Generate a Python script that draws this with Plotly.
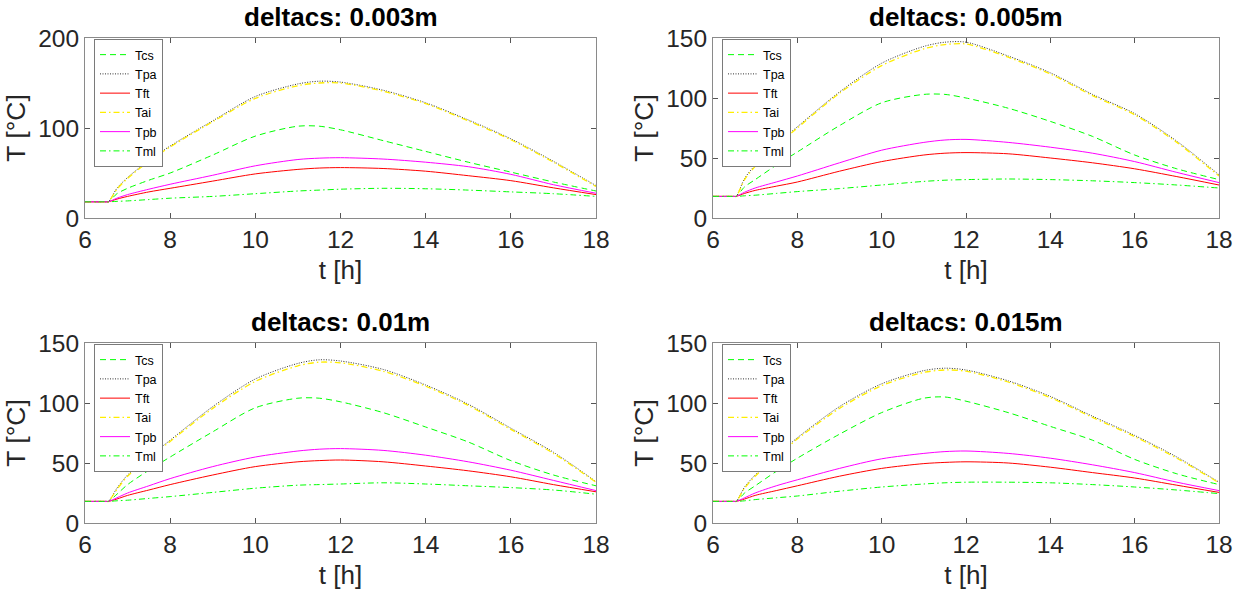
import plotly.graph_objects as go

# ---------------- data ----------------
hours = [6, 6.5, 6.55, 6.75, 7, 7.5, 8, 9, 10, 11, 11.5, 12, 13, 14, 15, 16, 17, 18]

panel_titles = ["deltacs: 0.003m", "deltacs: 0.005m", "deltacs: 0.01m", "deltacs: 0.015m"]
series_names = ["Tcs", "Tpa", "Tft", "Tai", "Tpb", "Tml"]

# deltacs = 0.003 m
tcs_1 = [18, 18, 18, 27, 33, 42, 50, 70, 91, 102, 102, 98, 86, 74, 62, 51, 40, 30]
tpa_1 = [18, 18, 18, 33, 45, 64, 80, 108, 135, 149, 152, 151, 142, 128, 109, 88, 63, 36]
tft_1 = [18, 18, 18, 21, 24, 29, 33, 41, 49, 54, 55.5, 56, 55, 52, 47, 41.5, 33.5, 26]
tai_1 = [18, 18, 18, 32, 44, 63, 79, 107, 133, 147, 150, 150, 141, 127, 108, 87, 62, 35]
tpb_1 = [18, 18, 18, 22, 26, 32, 37.5, 47.5, 58, 65, 66.5, 67, 65.5, 62, 57, 48.5, 37, 27.5]
tml_1 = [18, 18, 18, 18.5, 19, 20.5, 22, 24, 27, 30, 31, 32, 33, 32.5, 31, 29, 27, 24]

# deltacs = 0.005 m
tcs_2 = [18, 18, 18, 26, 32, 44, 55, 77, 96, 103, 103, 100, 91.5, 80.5, 68, 52.5, 41, 32]
tpa_2 = [18, 18, 18, 33, 44, 61, 76, 105, 129, 143, 146.5, 146.5, 135, 121, 103, 87, 64, 36]
tft_2 = [18, 18, 18, 20.5, 23, 26.5, 30, 39, 47, 52.5, 54, 54.5, 53.5, 50, 46, 41, 34.5, 27.5]
tai_2 = [18, 18, 18, 32, 43, 60, 75, 104, 127, 141, 144.5, 145, 134, 120, 102, 86, 63, 35]
tpb_2 = [18, 18, 18, 21.5, 25, 30, 35, 46, 56.5, 63, 65, 65.5, 63, 59, 54, 47, 38, 29.5]
tml_2 = [18, 18, 18, 18.5, 19, 20.5, 22, 24.5, 27.5, 30.5, 31.5, 32, 32.5, 32, 31, 29.5, 27.5, 25]

# deltacs = 0.01 m
tcs_3 = [18, 18, 18, 24, 32, 44, 55, 76, 96, 104, 104, 101, 92, 80, 67.5, 52, 40, 31]
tpa_3 = [18, 18, 18, 29, 40, 55, 69, 97, 120, 133, 136, 135, 128, 115, 99, 79, 59, 34.5]
tft_3 = [18, 18, 18, 20, 23, 27.5, 32, 40, 47, 51, 52, 52.5, 51, 47.5, 43.5, 38.5, 32, 26]
tai_3 = [18, 18, 18, 28, 39, 54, 68, 95.5, 118, 131, 134, 133.5, 126.5, 114, 98, 78, 58, 34]
tpb_3 = [18, 18, 18, 21, 25, 31, 37, 47, 55, 60, 61.5, 62, 60.5, 56.5, 51, 44, 35.5, 27]
tml_3 = [18, 18, 18, 18.5, 19, 20.5, 22, 25.5, 29, 31.5, 32, 32.5, 33.5, 32.5, 31, 29.5, 27.5, 24]

# deltacs = 0.015 m
tcs_4 = [18, 18, 18, 25, 31, 43, 54, 74, 92, 104, 105, 101.5, 92, 80.5, 69, 53, 41, 32]
tpa_4 = [18, 18, 18, 30, 40, 56, 71, 97, 116, 127, 129, 127.5, 118.5, 105.5, 89, 73, 55, 34]
tft_4 = [18, 18, 18, 20, 23, 27, 31, 39, 45.5, 49.5, 50.5, 51, 50, 46.5, 42, 37.5, 31.5, 25.5]
tai_4 = [18, 18, 18, 29, 39, 55, 70, 95.5, 114.5, 125.5, 127.5, 126.5, 117.5, 104.5, 88, 72, 54, 33.5]
tpb_4 = [18, 18, 18, 21, 25, 31, 36, 45.5, 53.5, 58, 59.5, 60, 58, 54, 48.5, 42, 34, 27]
tml_4 = [18, 18, 18, 18.5, 19.5, 21, 22.5, 26.5, 30, 32.5, 33.5, 34, 34, 33.5, 32, 30, 27.5, 24.5]

y_ranges = [[0, 200], [0, 150], [0, 150], [0, 150]]
y_dticks = [100, 50, 50, 50]
x_ticks = [6, 8, 10, 12, 14, 16, 18]

panels = [
    [tcs_1, tpa_1, tft_1, tai_1, tpb_1, tml_1],
    [tcs_2, tpa_2, tft_2, tai_2, tpb_2, tml_2],
    [tcs_3, tpa_3, tft_3, tai_3, tpb_3, tml_3],
    [tcs_4, tpa_4, tft_4, tai_4, tpb_4, tml_4],
]

# ---------------- styles ----------------
W, H = 1244, 602
styles = [
    dict(color="#00ff00", dash="6px,4px", width=1),
    dict(color="#333333", dash="1px,1.5px", width=1),
    dict(color="#ff0000", dash="solid", width=1),
    dict(color="#ffee00", dash="6px,3px,1.5px,3px", width=1.3),
    dict(color="#ff00ff", dash="solid", width=1),
    dict(color="#00ff00", dash="6px,3px,1.5px,3px", width=1),
]

# plot-area pixel boxes: (left, right, top, bottom)
boxes = [(85, 596, 38, 218), (713, 1219, 38, 218), (85, 596, 343, 523), (713, 1219, 343, 523)]

FONT = "Liberation Sans, Arial, sans-serif"
fig = go.Figure()
layout = dict(width=W, height=H, margin=dict(l=0, r=0, t=0, b=0, autoexpand=False),
              paper_bgcolor="white", plot_bgcolor="white", font=dict(family=FONT, color="#262626"),
              hovermode=False, annotations=[])

for i, (vals, box) in enumerate(zip(panels, boxes)):
    k = "" if i == 0 else str(i + 1)
    leg = "legend" + k
    for name, v, st in zip(series_names, vals, styles):
        fig.add_trace(go.Scatter(
            x=hours, y=v, name=name, mode="lines",
            line=dict(color=st["color"], dash=st["dash"], width=st["width"], shape="spline", smoothing=0.8),
            xaxis="x" + k, yaxis="y" + k, legend=leg, showlegend=True))
    l, r, t, b = box
    xd = [l / W, r / W]
    yd = [1 - b / H, 1 - t / H]
    axcommon = dict(showline=True, linecolor="#8a8a8a", linewidth=1, mirror="ticks",
                    ticks="inside", ticklen=5, tickcolor="#555555", showgrid=False, zeroline=False,
                    automargin=False,
                    tickfont=dict(size=24.5, family=FONT, color="#262626"))
    layout["xaxis" + k] = dict(domain=xd, range=[6, 18], tickvals=x_ticks, anchor="y" + k,
                               title=dict(text="t [h]", font=dict(size=26, family=FONT, color="#262626"), standoff=8),
                               **axcommon)
    layout["yaxis" + k] = dict(domain=yd, range=y_ranges[i], dtick=y_dticks[i], anchor="x" + k,
                               title=dict(text="T [°C]", font=dict(size=26.5, family=FONT, color="#262626"), standoff=4),
                               **axcommon)
    layout[leg] = dict(x=(l + 9) / W, y=1 - (t + 1) / H, xanchor="left", yanchor="top",
                       bgcolor="white", bordercolor="#7a7a7a", borderwidth=1,
                       font=dict(size=12.5, family=FONT, color="#000000"),
                       itemwidth=30, tracegroupgap=0)
    layout["annotations"].append(dict(
        text="<b>" + panel_titles[i] + "</b>", x=(l + r) / 2 / W, y=1 - t / H,
        xref="paper", yref="paper", xanchor="center", yanchor="bottom", yshift=4,
        showarrow=False, font=dict(size=26, family=FONT, color="#000000")))

fig.update_layout(**layout)
fig.write_html("out.html", config={"staticPlot": True, "displayModeBar": False},
               post_script="document.body.style.margin='0';")
